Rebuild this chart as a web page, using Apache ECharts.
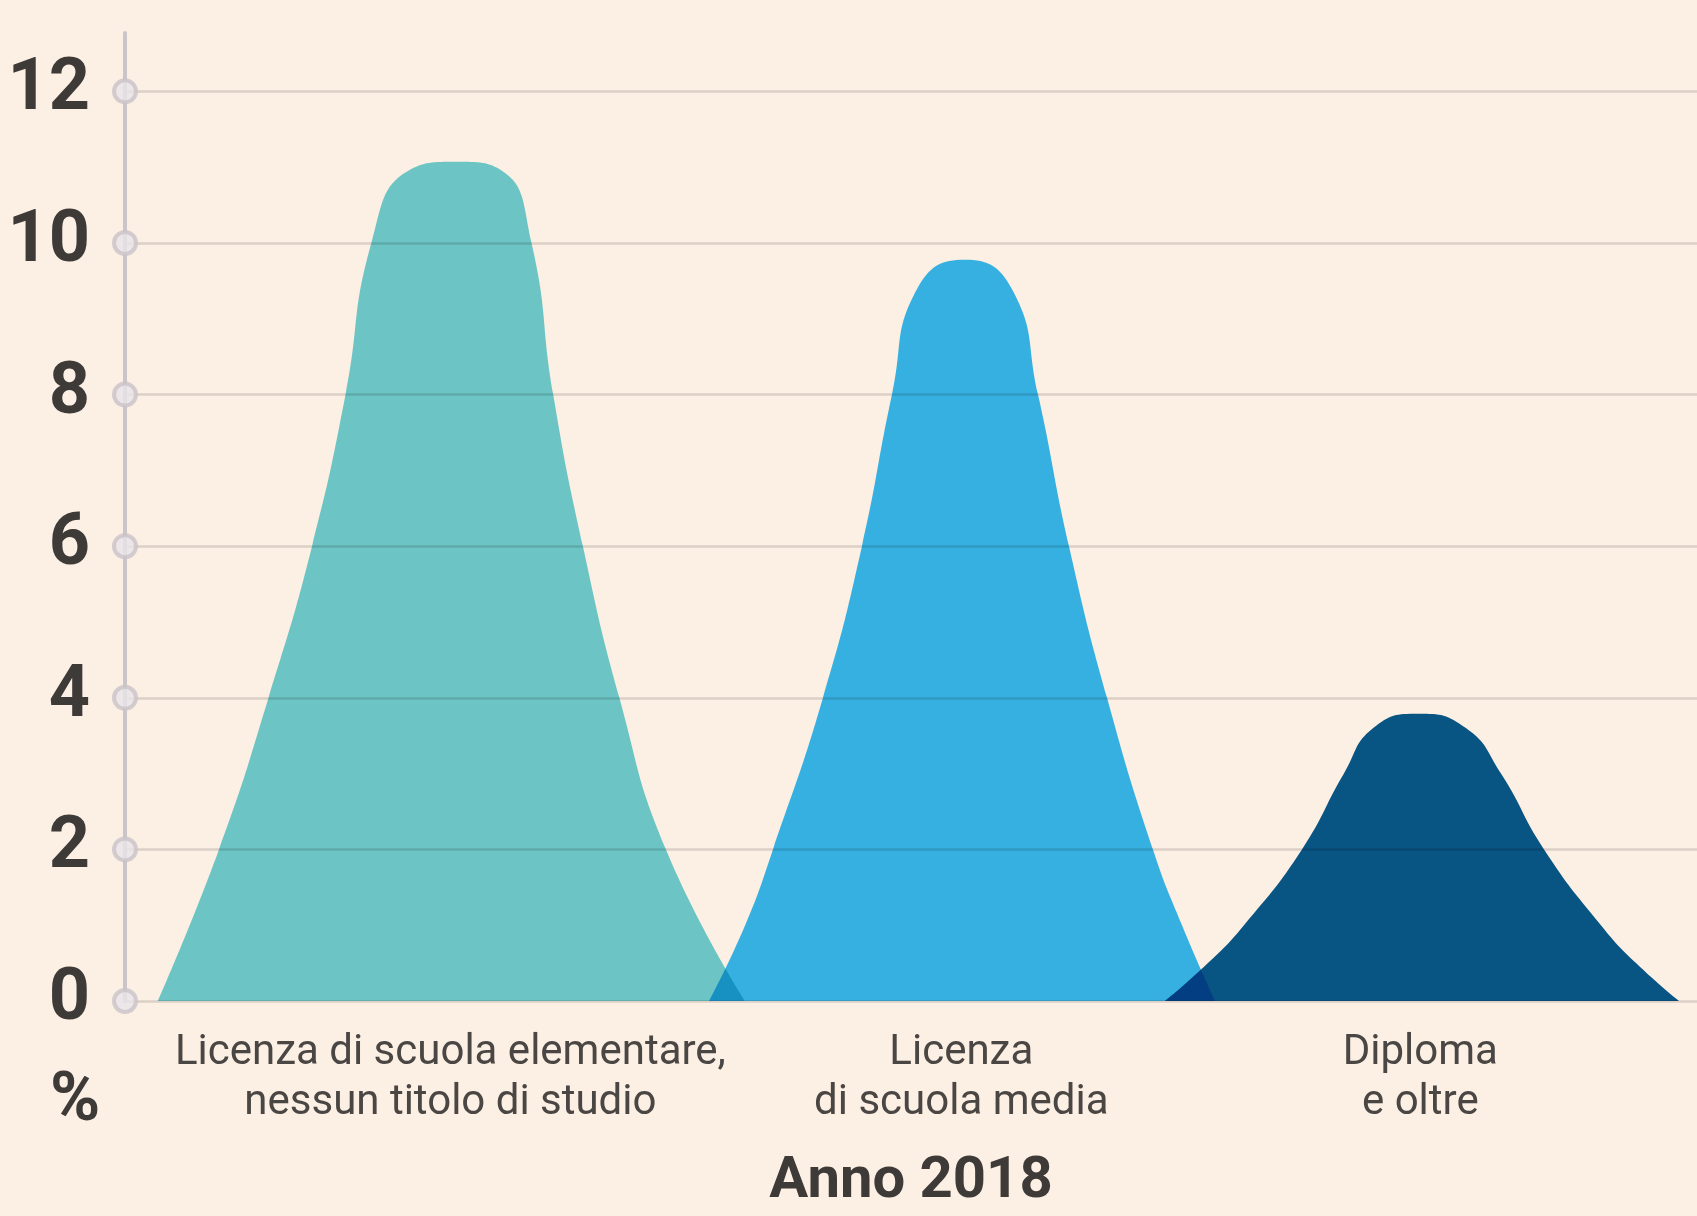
<!DOCTYPE html>
<html>
<head>
<meta charset="utf-8">
<script src="https://cdn.jsdelivr.net/npm/echarts@6/dist/echarts.min.js"></script>
<style>
html,body{margin:0;padding:0;background:#fcefe3;}
#chart{width:1697px;height:1216px;}
</style>
</head>
<body>
<div id="chart"></div>
<script>
// y axis ticks
const yTicks = [0, 2, 4, 6, 8, 10, 12];
// category labels and their positions along the (abstract) x scale
const categories = ['Licenza di scuola elementare,\nnessun titolo di studio', 'Licenza\ndi scuola media', 'Diploma\ne oltre'];
const categoryPos = [20.7, 53.2, 82.4];
// curve 1: Licenza di scuola elementare, nessun titolo di studio
const c1x = [2.09, 5.98, 9.13, 11.90, 14.03, 15.67, 18.00, 21.08, 24.00, 25.86, 27.24, 29.13, 31.45, 34.41, 39.44];
const c1y = [0, 2, 4, 6, 8, 10, 10.95, 11.07, 10.95, 10, 8, 6, 4, 2, 0];
// curve 2: Licenza di scuola media
const c2x = [37.15, 39.45, 41.22, 44.40, 46.88, 48.79, 50.40, 53.44, 56.40, 58.08, 60.05, 62.47, 65.39, 67.24, 69.34];
const c2y = [0, 1, 2, 4, 6, 8, 9.4, 9.78, 9.4, 8, 6, 4, 2, 1, 0];
// curve 3: Diploma e oltre
const c3x = [66.16, 68.89, 71.18, 74.87, 77.54, 79.40, 82.25, 85.30, 87.53, 90.27, 93.89, 96.12, 98.85];
const c3y = [0, 0.5, 1, 2, 3, 3.6, 3.79, 3.6, 3, 2, 1, 0.5, 0];

const pairs = (xs, ys) => xs.map((x, i) => [x, ys[i]]);
const FONT = "Roboto, 'Noto Sans', sans-serif";

function curve(name, xs, ys, color) {
  return {
    name: name,
    type: 'line',
    data: pairs(xs, ys),
    smooth: 0.5,
    showSymbol: false,
    symbol: 'none',
    lineStyle: { width: 0 },
    areaStyle: { color: color, opacity: 1 },
    blendMode: 'multiply',
    silent: true,
    z: 3
  };
}

const chart = echarts.init(document.getElementById('chart'), null, { renderer: 'canvas' });
chart.setOption({
  backgroundColor: '#fcefe3',
  animation: false,
  title: {
    text: '%',
    left: 45,
    top: 1064,
    textStyle: { fontFamily: FONT, fontWeight: 'bold', fontSize: 68, color: '#3d3a38' }
  },
  grid: { left: 125, right: 0, top: 33, bottom: 205, containLabel: false },
  xAxis: {
    type: 'value',
    min: 0,
    max: 100,
    axisLine: { show: false },
    axisTick: { show: false },
    splitLine: { show: false },
    axisLabel: {
      customValues: categoryPos,
      margin: 27,
      fontFamily: FONT,
      fontSize: 42,
      lineHeight: 50,
      color: '#4a4644',
      align: 'center',
      formatter: function (v) {
        let best = 0;
        categoryPos.forEach((p, i) => { if (Math.abs(p - v) < Math.abs(categoryPos[best] - v)) best = i; });
        return categories[best];
      }
    },
    name: 'Anno 2018',
    nameLocation: 'middle',
    nameGap: 152,
    nameTextStyle: { fontFamily: FONT, fontWeight: 'bold', fontSize: 58, color: '#3d3a38' }
  },
  yAxis: {
    type: 'value',
    min: 0,
    max: 12.77,
    interval: 2,
    axisLine: { show: true, lineStyle: { color: '#cbc5c9', width: 4 } },
    axisTick: { show: false },
    axisLabel: {
      showMaxLabel: false,
      margin: 35,
      fontFamily: FONT,
      fontWeight: 'bold',
      fontSize: 72,
      color: '#3d3a38',
      formatter: function (v) { return yTicks.indexOf(v) >= 0 ? String(v) : ''; }
    },
    splitLine: { show: true, showMaxLine: false, lineStyle: { color: '#dccfc6', width: 2.5 } }
  },
  series: [
    curve('Licenza di scuola elementare, nessun titolo di studio', c1x, c1y, '#6dd2dd'),
    curve('Licenza di scuola media', c2x, c2y, '#36bcfc'),
    curve('Diploma e oltre', c3x, c3y, '#085993'),
    {
      type: 'scatter',
      data: yTicks.map(v => [0, v]),
      symbol: 'circle',
      symbolSize: 22,
      clip: false,
      silent: true,
      itemStyle: { color: '#e7e3e9', borderColor: '#c9c3c8', borderWidth: 4 },
      z: 5
    }
  ]
});
</script>
</body>
</html>
